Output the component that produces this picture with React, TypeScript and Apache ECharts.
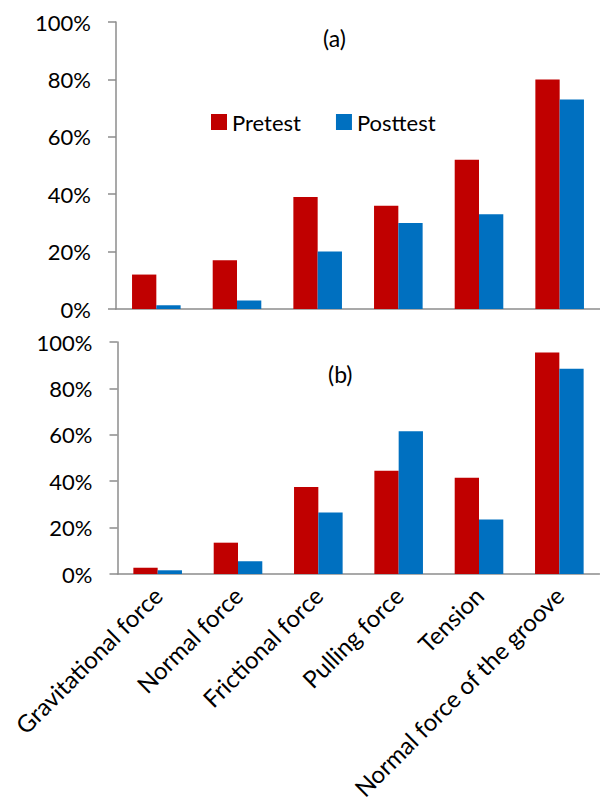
import React, { useEffect, useRef } from "react";
import * as echarts from "echarts";

const categories = [
  "Gravitational force",
  "Normal force",
  "Frictional force",
  "Pulling force",
  "Tension",
  "Normal force of the groove",
];
const pretestA = [12, 17, 39, 36, 52, 80];
const posttestA = [1.3, 3, 20, 30, 33, 73];
const pretestB = [2.7, 13.5, 37.5, 44.5, 41.5, 95.5];
const posttestB = [1.6, 5.5, 26.5, 61.5, 23.5, 88.5];
const yTicks = { min: 0, max: 100, interval: 20 };

const RED = "#C00000";
const BLUE = "#0070C0";
const AXIS = "#8c8c8c";
const FONT = "Lato";

export default function App() {
  const ref = useRef<HTMLDivElement>(null);
  useEffect(() => {
    document.body.style.margin = "0";
    const chart = echarts.init(ref.current!, null, { renderer: "svg" });
    const yAxisCommon = (gridIndex: number) => ({
      type: "value",
      gridIndex,
      min: yTicks.min,
      max: yTicks.max,
      interval: yTicks.interval,
      axisLine: { show: true, lineStyle: { color: AXIS, width: 1.5 } },
      axisTick: { show: true, length: 8, lineStyle: { color: AXIS, width: 1.5 } },
      splitLine: { show: false },
      axisLabel: {
        formatter: "{value}%",
        fontFamily: FONT,
        fontSize: 22,
        color: "#000",
        margin: 25,
      },
    });
    const xAxisCommon = (gridIndex: number, showLabel: boolean) => ({
      type: "category",
      gridIndex,
      data: categories,
      axisLine: { show: true, lineStyle: { color: AXIS, width: 1.5 } },
      axisTick: { show: false },
      axisLabel: {
        show: showLabel,
        interval: 0,
        rotate: 45,
        fontFamily: FONT,
        fontSize: 24,
        color: "#000",
        margin: 17,
      },
    });
    const bar = (name: string, data: number[], color: string, idx: number) => ({
      name,
      type: "bar",
      data,
      xAxisIndex: idx,
      yAxisIndex: idx,
      barWidth: 24.3,
      barGap: "0%",
      itemStyle: { color },
    });
    chart.setOption({
      animation: false,
      grid: [
        { left: 116, top: 22, width: 486, height: 287 },
        { left: 117.5, top: 342, width: 482, height: 232 },
      ],
      xAxis: [xAxisCommon(0, false), xAxisCommon(1, true)],
      yAxis: [yAxisCommon(0), yAxisCommon(1)],
      legend: {
        left: 211,
        top: 111,
        padding: 0,
        itemWidth: 16,
        itemHeight: 16,
        itemGap: 35,
        icon: "rect",
        textStyle: { fontFamily: FONT, fontSize: 22, color: "#000" },
        data: ["Pretest", "Posttest"],
      },
      graphic: [
        {
          type: "text",
          left: 323,
          top: 26,
          style: { text: "(a)", fontFamily: FONT, fontSize: 23, fill: "#000" },
        },
        {
          type: "text",
          left: 328,
          top: 362,
          style: { text: "(b)", fontFamily: FONT, fontSize: 23, fill: "#000" },
        },
      ],
      series: [
        bar("Pretest", pretestA, RED, 0),
        bar("Posttest", posttestA, BLUE, 0),
        bar("Pretest", pretestB, RED, 1),
        bar("Posttest", posttestB, BLUE, 1),
      ],
    });
    return () => chart.dispose();
  }, []);
  return <div ref={ref} style={{ width: 600, height: 808 }} />;
}
